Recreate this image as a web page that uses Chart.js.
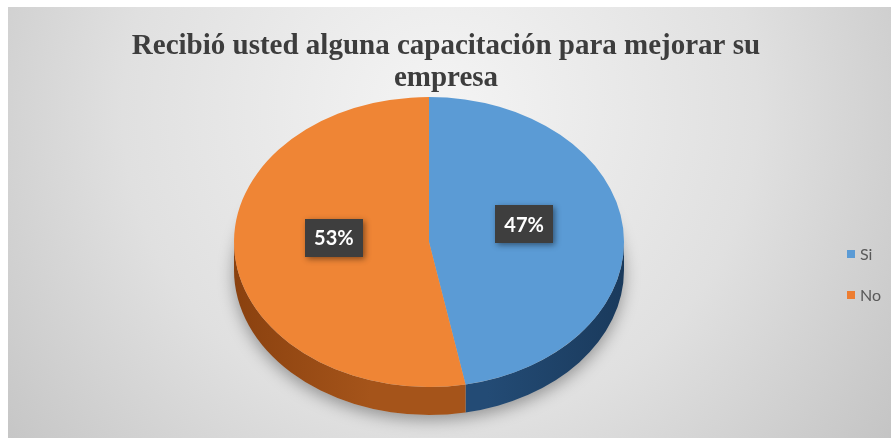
<!DOCTYPE html>
<html>
<head>
<meta charset="utf-8">
<script src="https://cdn.jsdelivr.net/npm/chart.js@4.4.1/dist/chart.umd.min.js"></script>
<style>
  html, body { margin: 0; padding: 0; background: #ffffff; overflow: hidden; }
  #wrap { position: relative; width: 891px; height: 438px; }
</style>
</head>
<body>
<div id="wrap"><canvas id="chart" width="891" height="438"></canvas></div>
<script>
// Survey answers
const titleLines = ['Recibió usted alguna capacitación para mejorar su', 'empresa'];
const categories = ['Si', 'No'];
const values = [47, 53];

// Colours: top faces, side walls, legend swatches
const topColors = ['#5b9bd5', '#ef8535'];
const sideDark = ['#1a3a5c', '#8a410f'];
const sideLight = ['#234b75', '#a5541a'];
const legendColors = ['#5b9bd5', '#ed7d31'];

// Geometry of the tilted pie (screen ellipse) and of the legend
const PIE = { cx: 429, cy: 242, rx: 195, ry: 145, depth: 28 };
const LABEL = { radius: 0.49, lift: 11, w: 58, h: 38 };
const LEGEND = { x: 847, y: 254, gap: 41, box: 8 };

function ellipsePt(a, dy) {
  return [PIE.cx + PIE.rx * Math.cos(a), PIE.cy + (dy || 0) + PIE.ry * Math.sin(a)];
}

// Part of [s, e] that faces the viewer (canvas angles between 0 and PI, mod 2PI)
function frontRanges(s, e) {
  const out = [];
  for (let k = -2; k <= 2; k++) {
    const lo = Math.max(s, k * 2 * Math.PI), hi = Math.min(e, k * 2 * Math.PI + Math.PI);
    if (hi > lo) out.push([lo, hi]);
  }
  return out;
}

const pie3d = {
  id: 'pie3d',
  beforeDraw(chart) {
    const ctx = chart.ctx;
    ctx.save();
    ctx.fillStyle = '#ffffff';
    ctx.fillRect(0, 0, chart.width, chart.height);
    const g = ctx.createRadialGradient(440, 110, 20, 440, 110, 560);
    g.addColorStop(0, '#f3f3f3');
    g.addColorStop(0.55, '#e0e0e0');
    g.addColorStop(1, '#c4c4c4');
    ctx.fillStyle = g;
    ctx.fillRect(8, 7, chart.width - 8, chart.height - 7);
    ctx.restore();
  },
  beforeDatasetsDraw(chart) {
    const ctx = chart.ctx;
    const arcs = chart.getDatasetMeta(0).data;
    if (!arcs.length) return;

    // soft shadow under the disc
    ctx.save();
    ctx.shadowColor = 'rgba(0,0,0,0.35)';
    ctx.shadowBlur = 16;
    ctx.shadowOffsetY = 5;
    ctx.fillStyle = '#b8b8b8';
    ctx.beginPath();
    ctx.ellipse(PIE.cx, PIE.cy + PIE.depth, PIE.rx, PIE.ry, 0, 0, Math.PI * 2);
    ctx.fill();
    ctx.restore();

    // side walls
    arcs.forEach((arc, i) => {
      frontRanges(arc.startAngle, arc.endAngle).forEach(([a1, a2]) => {
        const p1 = ellipsePt(a1), p2 = ellipsePt(a2, PIE.depth);
        const g = ctx.createLinearGradient(PIE.cx - PIE.rx, 0, PIE.cx + PIE.rx, 0);
        g.addColorStop(0, sideDark[i]);
        g.addColorStop(0.35, sideLight[i]);
        g.addColorStop(0.65, sideLight[i]);
        g.addColorStop(1, sideDark[i]);
        ctx.save();
        ctx.fillStyle = g;
        ctx.beginPath();
        ctx.moveTo(p1[0], p1[1]);
        ctx.ellipse(PIE.cx, PIE.cy, PIE.rx, PIE.ry, 0, a1, a2);
        ctx.lineTo(p2[0], p2[1]);
        ctx.ellipse(PIE.cx, PIE.cy + PIE.depth, PIE.rx, PIE.ry, 0, a2, a1, true);
        ctx.closePath();
        ctx.fill();
        ctx.restore();
      });
    });

    // map the library's circular arcs onto the tilted top face
    const a0 = arcs[0];
    ctx.save();
    ctx.translate(PIE.cx, PIE.cy);
    ctx.scale(PIE.rx / a0.outerRadius, PIE.ry / a0.outerRadius);
    ctx.translate(-a0.x, -a0.y);
  },
  afterDatasetsDraw(chart) {
    const ctx = chart.ctx;
    const arcs = chart.getDatasetMeta(0).data;
    if (!arcs.length) return;
    ctx.restore();

    const total = values.reduce((s, v) => s + v, 0);
    // percentage tags
    arcs.forEach((arc, i) => {
      const mid = (arc.startAngle + arc.endAngle) / 2;
      const x = PIE.cx + PIE.rx * LABEL.radius * Math.cos(mid);
      const y = PIE.cy + PIE.ry * LABEL.radius * Math.sin(mid) - LABEL.lift;
      ctx.save();
      ctx.shadowColor = 'rgba(0,0,0,0.45)';
      ctx.shadowBlur = 6;
      ctx.shadowOffsetX = 2;
      ctx.shadowOffsetY = 2;
      ctx.fillStyle = '#3e3e3e';
      ctx.fillRect(Math.round(x - LABEL.w / 2), Math.round(y - LABEL.h / 2), LABEL.w, LABEL.h);
      ctx.restore();
      ctx.save();
      ctx.fillStyle = '#ffffff';
      ctx.font = 'bold 20px Lato, "Open Sans", sans-serif';
      ctx.textAlign = 'center';
      ctx.textBaseline = 'middle';
      ctx.fillText(Math.round(values[i] / total * 100) + '%', x, y + 1);
      ctx.restore();
    });

    // legend
    categories.forEach((name, i) => {
      const y = LEGEND.y + i * LEGEND.gap;
      ctx.save();
      ctx.fillStyle = legendColors[i];
      ctx.fillRect(LEGEND.x, y - LEGEND.box / 2, LEGEND.box, LEGEND.box);
      ctx.fillStyle = '#595959';
      ctx.font = '16px Lato, "Open Sans", sans-serif';
      ctx.textBaseline = 'middle';
      ctx.fillText(name, LEGEND.x + LEGEND.box + 5, y + 1);
      ctx.restore();
    });
  }
};

new Chart(document.getElementById('chart'), {
  type: 'pie',
  data: {
    labels: categories,
    datasets: [{
      data: values,
      backgroundColor: topColors,
      borderWidth: 0,
      clip: false
    }]
  },
  options: {
    responsive: false,
    animation: false,
    events: [],
    layout: { padding: { left: 8, right: 7, top: 0, bottom: 20 } },
    plugins: {
      legend: { display: false },
      tooltip: { enabled: false },
      title: {
        display: true,
        text: titleLines,
        color: '#3d3d3d',
        font: { family: '"Liberation Serif", "DejaVu Serif", serif', size: 29, weight: 'bold', lineHeight: 1.12 },
        padding: { top: 30, bottom: 10 }
      }
    }
  },
  plugins: [pie3d]
});
</script>
</body>
</html>
